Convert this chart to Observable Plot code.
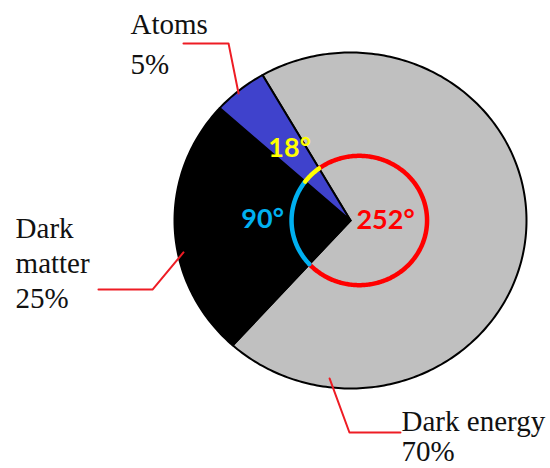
<!DOCTYPE html>
<html><head><meta charset="utf-8">
<script src="https://cdn.jsdelivr.net/npm/d3@7"></script>
<script src="https://cdn.jsdelivr.net/npm/@observablehq/plot@0.6"></script>
<style>body{margin:0;background:#fff}</style>
</head><body><div id="chart"></div>
<script>
// ---- data ----
const categories = ["Dark energy", "Dark matter", "Atoms"];
const percents = [70, 25, 5];
const nameLines = [["Dark energy"], ["Dark", "matter"], ["Atoms"]];
const percentLabels = ["70%", "25%", "5%"];

// ---- styles / layout (not data) ----
const startDeg = -30;
const sliceFill = ["#c0c0c0", "#000000", "#3f42cc"];
const markerStroke = ["#ff0000", "#00b0f0", "#ffff00"];
const degLabelRadius = [0.2, 0.5, 0.55];
const degLabelDy = [-4, -6, 0];
const markerCenter = {x: 0.05, y: 0}, markerR = 0.385;
const leaderPaths = [
  [[-0.119, -0.94], [-0.006, -1.262], [0.284, -1.262]],
  [[-0.949, -0.19], [-1.125, -0.411], [-1.432, -0.411]],
  [[-0.636, 0.756], [-0.693, 1.054], [-0.949, 1.054]]
];
// left x and first-line baseline y (unit space), line step (unit space, downward)
const labelPos = [[0.29, -1.25], [-1.903, -0.107], [-1.25, 1.113]];
const labelStep = [0.18, 0.208, 0.238];

const deg = Math.PI / 180;
const arcs = d3.pie().sort(null).value(d => d)
  .startAngle(startDeg * deg).endAngle((startDeg + 360) * deg)(percents);

// slice polygons (unit radius space; angle clockwise from top)
const slices = arcs.flatMap((a, i) => {
  const n = Math.max(2, Math.ceil((a.endAngle - a.startAngle) / deg));
  const pts = [{cat: categories[i], x: 0, y: 0}];
  for (let k = 0; k <= n; k++) {
    const t = a.startAngle + (a.endAngle - a.startAngle) * k / n;
    pts.push({cat: categories[i], x: Math.sin(t), y: Math.cos(t)});
  }
  pts.push({cat: categories[i], x: 0, y: 0});
  return pts;
});

// angle markers: arcs of a circle, split where the slice edges cross it
function markerAngle(t) {
  const ux = Math.sin(t), uy = Math.cos(t);
  const ud = ux * markerCenter.x + uy * markerCenter.y;
  const dd = markerCenter.x ** 2 + markerCenter.y ** 2;
  const s = ud + Math.sqrt(ud * ud - dd + markerR * markerR);
  return Math.atan2(s * ux - markerCenter.x, s * uy - markerCenter.y);
}
const markerArcs = arcs.map(a => {
  const s = markerAngle(a.startAngle);
  let e = markerAngle(a.endAngle);
  while (e <= s) e += 2 * Math.PI;
  const n = Math.max(2, Math.ceil((e - s) / deg));
  return d3.range(n + 1).map(k => {
    const t = s + (e - s) * k / n;
    return {x: markerCenter.x + markerR * Math.sin(t), y: markerCenter.y + markerR * Math.cos(t)};
  });
});

const degLabels = arcs.map((a, i) => {
  const mid = (a.startAngle + a.endAngle) / 2;
  return {x: degLabelRadius[i] * Math.sin(mid), y: degLabelRadius[i] * Math.cos(mid),
          text: `${Math.round(percents[i] * 3.6)}°`};
});

const marks = [
  Plot.line(slices, {x: "x", y: "y", z: "cat", fill: "cat", stroke: "#000", strokeWidth: 2, strokeLinejoin: "round"})
];
markerArcs.forEach((pts, i) => marks.push(
  Plot.line(pts, {x: "x", y: "y", stroke: markerStroke[i], strokeWidth: 4.5})
));
degLabels.forEach((d, i) => marks.push(
  Plot.text([d], {x: "x", y: "y", text: "text", fill: markerStroke[i], fontSize: 27, fontWeight: "bold",
    fontFamily: "Lato, 'Open Sans', sans-serif", textAnchor: "middle", lineAnchor: "middle", dy: degLabelDy[i]})
));
leaderPaths.forEach(p => marks.push(
  Plot.line(p.map(([x, y]) => ({x, y})), {x: "x", y: "y", stroke: "#ee1c24", strokeWidth: 2})
));
const labelRows = categories.flatMap((c, i) =>
  [...nameLines[i], percentLabels[i]].map((t, j) => ({
    x: labelPos[i][0], y: labelPos[i][1] - j * labelStep[i], text: t
  }))
);
marks.push(Plot.text(labelRows, {x: "x", y: "y", text: "text", fill: "#111", fontSize: 29,
  fontFamily: "'Liberation Serif', 'Times New Roman', serif", textAnchor: "start", lineAnchor: "bottom"}));

const chart = Plot.plot({
  width: 550, height: 468, margin: 0,
  x: {domain: [-1, 1], range: [174, 526], axis: null},
  y: {domain: [-1, 1], range: [388, 52], axis: null},
  color: {domain: categories, range: sliceFill},
  style: {background: "white", overflow: "visible"},
  marks
});
document.getElementById("chart").append(chart);
</script>
</body></html>
